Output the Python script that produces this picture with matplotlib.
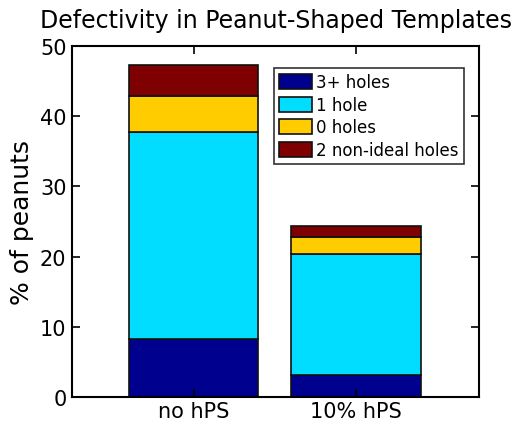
import matplotlib
matplotlib.use("Agg")
import matplotlib.pyplot as plt
import numpy as np

# Data
groups = ["no hPS", "10% hPS"]
series = ["3+ holes", "1 hole", "0 holes", "2 non-ideal holes"]
holes3 = [8.3, 3.1]
hole1 = [29.4, 17.3]
holes0 = [5.2, 2.4]
nonideal = [4.4, 1.5]
yticks = [0, 10, 20, 30, 40, 50]

colors = ["#00008F", "#00DDFF", "#FFCC00", "#7F0000"]

fig = plt.figure(figsize=(5.23, 4.27), dpi=100)
ax = fig.add_axes([0.1377, 0.0679, 0.7782, 0.822])

x = np.arange(1, len(groups) + 1)
bottom = np.zeros(len(groups))
for vals, lab, col in zip([holes3, hole1, holes0, nonideal], series, colors):
    ax.bar(x, vals, width=0.8, bottom=bottom, color=col, edgecolor="#111111",
           linewidth=1.2, label=lab)
    bottom += np.array(vals)

ax.set_xlim(0.25, 2.76)
ax.set_ylim(0, 50)
ax.set_xticks(x)
ax.set_xticklabels(groups, fontsize=15)
ax.set_yticks(yticks)
ax.tick_params(axis="y", labelsize=15, pad=4)
ax.tick_params(axis="x", pad=3)
ax.tick_params(direction="in", top=True, right=True, length=6, width=1.2)
for s in ax.spines.values():
    s.set_linewidth(1.5)

ax.set_ylabel("% of peanuts", fontsize=18, labelpad=4)
ax.set_title("Defectivity in Peanut-Shaped Templates", fontsize=17, pad=14)

leg = ax.legend(loc="upper right", bbox_to_anchor=(0.963, 0.937),
                fontsize=12, frameon=True, fancybox=False,
                edgecolor="#333333", framealpha=1, handlelength=2.0,
                handleheight=1.0, handletextpad=0.25, borderpad=0.3,
                labelspacing=0.28, borderaxespad=0)
leg.get_frame().set_linewidth(1.2)

plt.savefig("out.png", dpi=100)
plt.close()
